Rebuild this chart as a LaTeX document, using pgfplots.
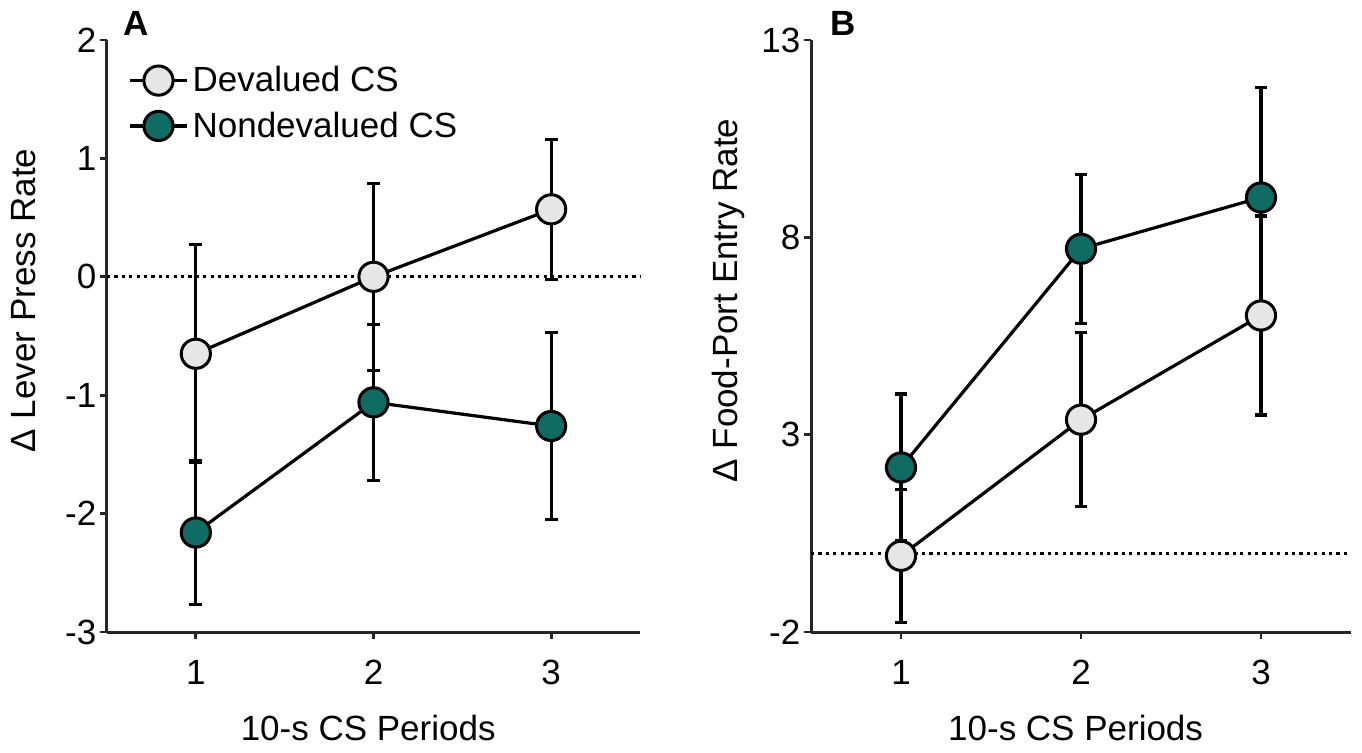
\documentclass[border=0pt]{standalone}
\usepackage{fontspec}
\setmainfont{Liberation Sans}
\usepackage{pgfplots}
\usepackage{pgfplotstable}
\pgfplotsset{compat=1.18}

\definecolor{devgray}{HTML}{E6E6E6}
\definecolor{ndteal}{HTML}{0F6B64}
\definecolor{axgray}{HTML}{262626}
\newcommand\lbl{\fontsize{17.5}{20}\selectfont}

% panel A: lever press
\pgfplotstableread{
x y e
1 -0.65 0.92
2 0.00 0.79
3 0.57 0.59
}\devA
\pgfplotstableread{
x y e
1 -2.16 0.61
2 -1.06 0.66
3 -1.26 0.79
}\ndA
% panel B: food-port entry
\pgfplotstableread{
x y e
1 -0.07 1.69
2 3.38 2.20
3 6.02 2.52
}\devB
\pgfplotstableread{
x y e
1 2.17 1.86
2 7.71 1.89
3 9.01 2.78
}\ndB

\pgfplotsset{
  panel/.style={
    scale only axis, anchor=south west,
    width=266.5pt, height=296pt,
    xmin=0.5, xmax=3.5, xtick={1,2,3},
    axis x line=bottom, axis y line=left,
    axis line style={-, line width=1.5pt, color=axgray},
    tick style={line width=1.4pt, color=axgray},
    tick align=outside, major tick length=3.5pt,
    /pgf/number format/assume math mode=true,
    every tick label/.append style={font=\lbl},
    label style={font=\lbl},
    xticklabel style={yshift=-7pt},
    yticklabel style={xshift=1.7pt},
    xlabel={10-s CS Periods},
    xlabel style={at={(axis description cs:0.49,0)}, anchor=base, yshift=-54pt},
    clip=false,
  },
  series/.style={
    black, line width=1.6pt, mark=*, mark size=7.3pt,
    mark options={fill=#1, line width=1.5pt},
    error bars/.cd, y dir=both, y explicit,
    error bar style={line width=1.6pt, black},
    error mark options={rotate=90, mark size=3.2pt, line width=1.6pt, black},
  },
  zeroline/.style={black, line width=1.5pt, dash pattern=on 1.6pt off 2.1pt, forget plot},
}

\begin{document}
\begin{tikzpicture}[x=1pt,y=1pt]
\useasboundingbox (0,0) rectangle (681,376);

\begin{axis}[panel, at={(53.5pt,60pt)},
  ymin=-3, ymax=2, ytick={-3,-2,-1,0,1,2},
  ylabel={Δ Lever Press Rate},
  ylabel style={at={(axis description cs:-0.135,0.56)}, anchor=base},
  reverse legend,
  legend style={at={(axis description cs:0,1)}, anchor=north west,
    xshift=10.5pt, yshift=-11pt, draw=none, fill=none, font=\lbl,
    row sep=4.5pt, inner sep=0pt},
  legend cell align=left,
  legend image code/.code={\draw[mark repeat=2,mark phase=2] plot coordinates {(0pt,0pt)(14.25pt,0pt)(28.5pt,0pt)};},
]
\addplot[zeroline] coordinates {(0.5,0) (3.5,0)};
\addplot[series=ndteal] table[x=x, y=y, y error=e] {\ndA};
\addlegendentry{Nondevalued CS}
\addplot[series=devgray] table[x=x, y=y, y error=e] {\devA};
\addlegendentry{Devalued CS}
\end{axis}

\begin{axis}[panel, at={(405.5pt,60pt)}, width=270pt,
  ymin=-2, ymax=13, ytick={-2,3,8,13},
  ylabel={Δ Food-Port Entry Rate},
  ylabel style={at={(axis description cs:-0.137,0.56)}, anchor=base},
]
\addplot[zeroline] coordinates {(0.5,0) (3.5,0)};
\addplot[series=ndteal] table[x=x, y=y, y error=e] {\ndB};
\addplot[series=devgray] table[x=x, y=y, y error=e] {\devB};
\end{axis}

\node[anchor=base west, inner sep=0pt, font=\lbl\bfseries] at (61.5,358.5) {A};
\node[anchor=base west, inner sep=0pt, font=\lbl\bfseries] at (415,358.5) {B};
\end{tikzpicture}
\end{document}
